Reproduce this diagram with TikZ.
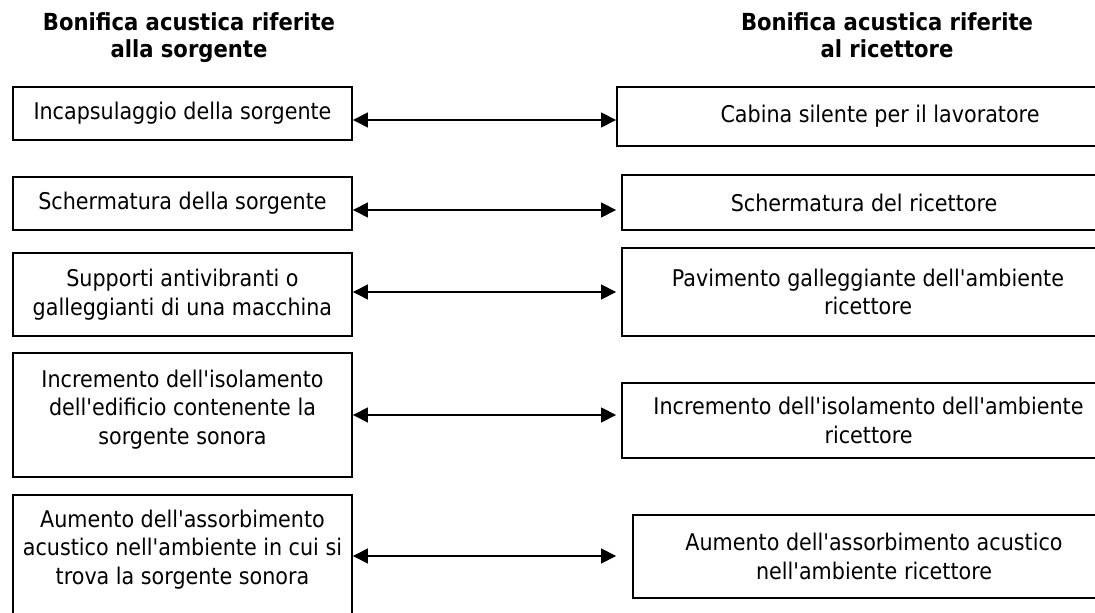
\documentclass[tikz,border=0pt]{standalone}
\usepackage{fontspec}
\setmainfont{DejaVu Sans Condensed}[Ligatures=TeXOff]
\usetikzlibrary{arrows.meta}
\tikzset{
  box/.style={draw=black, line width=0.8pt, align=center, inner sep=0pt, font=\fontsize{11.5pt}{14.25pt}\selectfont},
  head/.style={align=center, anchor=north, font=\fontsize{11.75pt}{13.5pt}\selectfont\bfseries},
  link/.style={{Triangle[length=7.5pt,width=7.3pt]}-{Triangle[length=7.5pt,width=7.3pt]}, line width=1pt},
}
\begin{document}
\begin{tikzpicture}[x=0.5pt,y=-0.5pt]
\clip (0,0) rectangle (1095,613);
\node[head] (hl) at (189,6) {Bonifica acustica riferite\\alla sorgente};
\node[head] (hr) at (887,6) {Bonifica acustica riferite\\al ricettore};
\node[box, minimum width=169.5pt, minimum height=26.5pt] (l1) at (182.5,113.5) {Incapsulaggio della sorgente};
\node[box, minimum width=169.5pt, minimum height=26.5pt] (l2) at (182.5,203.5) {Schermatura della sorgente};
\node[box, minimum width=169.5pt, minimum height=41.5pt] (l3) at (182.5,294.5) {Supporti antivibranti o\\galleggianti di una macchina};
\node[box, minimum width=169.5pt, minimum height=62pt] (l4) at (182.5,415) {Incremento dell'isolamento\\dell'edificio contenente la\\sorgente sonora\\[-6.25pt]};
\node[box, minimum width=169.5pt, minimum height=67.5pt] (l5) at (182.5,562.5) {Aumento dell'assorbimento\\acustico nell'ambiente in cui si\\trova la sorgente sonora\\[1.25pt]};
\node[box, minimum width=263pt, minimum height=29.5pt] (r1) at (880,116.5) {Cabina silente per il lavoratore};
\node[box, minimum width=242pt, minimum height=27.5pt] (r2) at (864,202.5) {Schermatura del ricettore};
\node[box, minimum width=246pt, minimum height=44pt] (r3) at (868,292) {Pavimento galleggiante dell'ambiente\\ricettore};
\node[box, minimum width=246.5pt, minimum height=37.5pt] (r4) at (868.5,420.5) {Incremento dell'isolamento dell'ambiente\\ricettore};
\node[box, minimum width=241pt, minimum height=41.5pt] (r5) at (874,556.5) {Aumento dell'assorbimento acustico\\nell'ambiente ricettore};
\draw[link] (l1.east |- 0,120) -- (r1.west |- 0,120);
\draw[link, shorten >=2.5pt] (l2.east |- 0,210) -- (r2.west |- 0,210);
\draw[link, shorten >=2.5pt] (l3.east |- 0,292) -- (r3.west |- 0,292);
\draw[link, shorten >=2.5pt] (l4.east |- 0,415) -- (r4.west |- 0,415);
\draw[link, shorten >=8pt] (l5.east |- 0,556) -- (r5.west |- 0,556);
\end{tikzpicture}
\end{document}
